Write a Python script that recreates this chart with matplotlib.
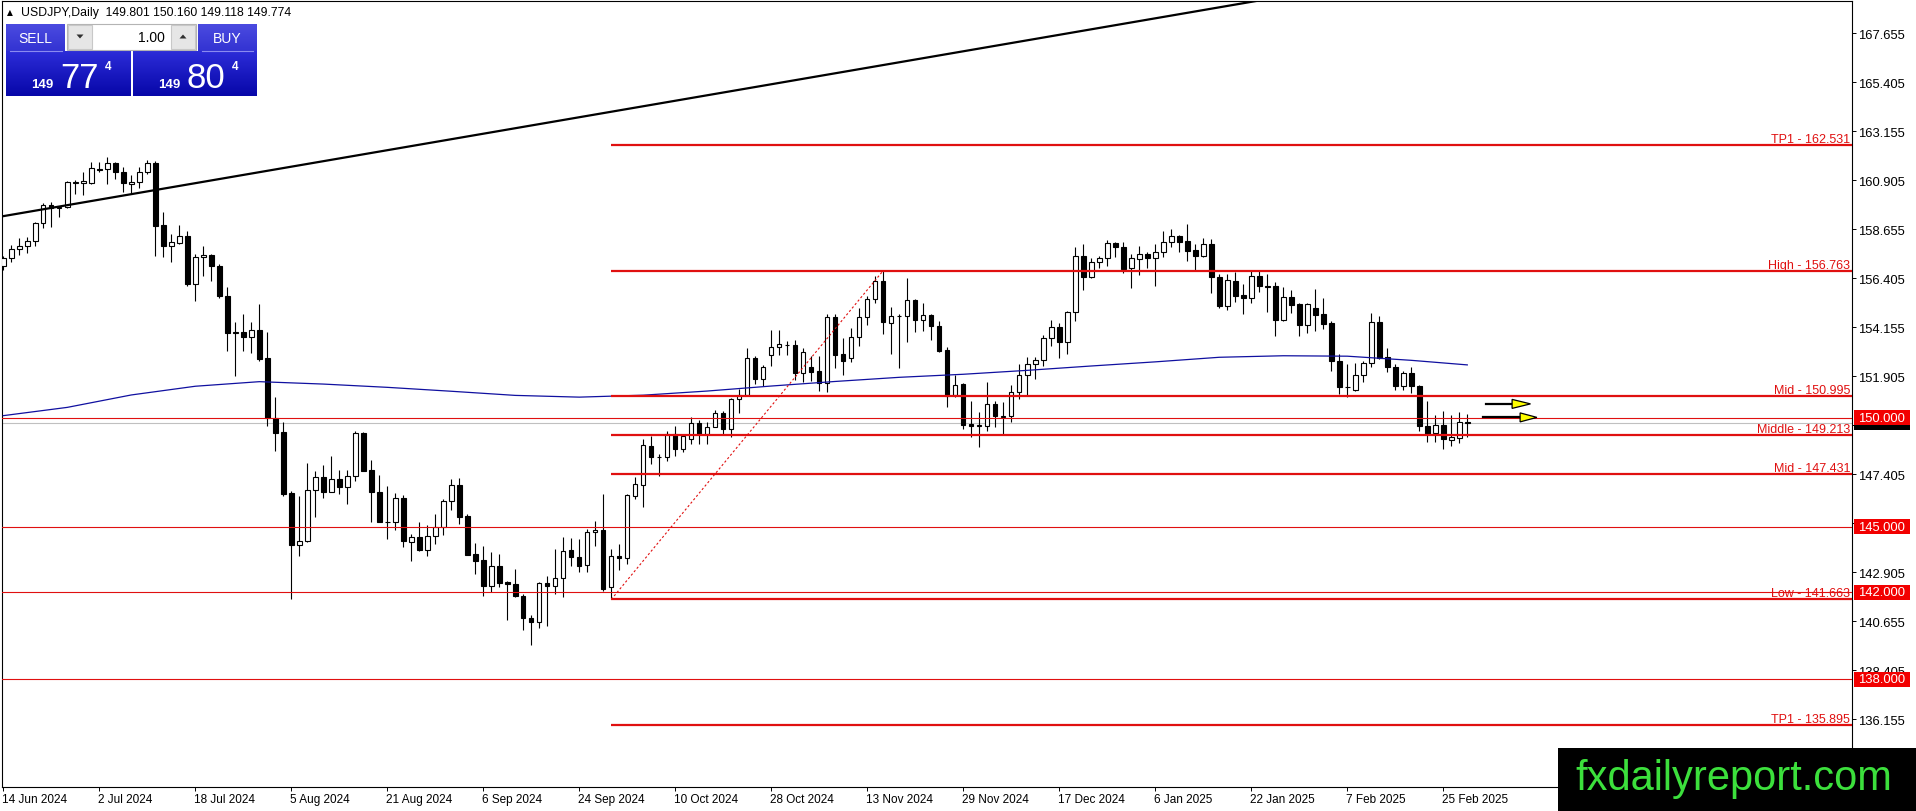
import numpy as np
import matplotlib
matplotlib.use("Agg")
import matplotlib.pyplot as plt
import matplotlib.colors as mcolors
from matplotlib.patches import Rectangle, Polygon

plt.rcParams['font.family'] = ['Liberation Sans', 'DejaVu Sans']

# ---------------- data (daily USDJPY candles, 14 Jun 2024 .. 28 Feb 2025) ----------------
opens = [156.98, 157.32, 157.75, 157.87, 158.10, 158.94, 159.77, 159.65, 159.67, 160.80,
         160.78, 160.77, 161.44, 161.42, 161.69, 161.27, 160.74, 160.81, 161.27, 161.69,
         158.85, 157.90, 158.03, 158.33, 156.14, 157.37, 157.47, 156.98, 155.58, 153.88,
         153.95, 153.70, 154.03, 152.75, 149.98, 149.33, 146.55, 144.17, 144.33, 146.69,
         147.27, 146.61, 147.19, 146.81, 147.31, 149.30, 147.60, 146.58, 145.23, 145.20,
         146.30, 144.29, 144.51, 143.95, 144.56, 145.00, 146.17, 146.92, 145.51, 143.73,
         143.47, 142.29, 143.18, 142.48, 142.37, 141.80, 140.82, 140.61, 142.42, 142.26,
         142.63, 143.93, 143.60, 143.24, 144.74, 144.85, 142.21, 143.67, 143.55, 146.42,
         146.92, 148.72, 148.19, 148.19, 149.26, 148.57, 149.03, 149.75, 149.26, 149.60,
         150.21, 149.49, 150.87, 151.06, 152.73, 151.78, 152.90, 153.24, 153.35, 153.36,
         152.05, 152.35, 152.15, 151.60, 154.64, 152.93, 152.73, 153.70, 154.64, 155.46,
         156.27, 154.34, 154.66, 154.69, 155.43, 154.50, 154.73, 154.20, 153.13, 151.05,
         151.55, 149.72, 149.61, 149.61, 150.64, 150.05, 150.07, 151.19, 151.97, 152.47,
         152.66, 153.65, 154.16, 153.47, 154.84, 157.42, 156.45, 157.14, 157.32, 158.01,
         157.83, 156.86, 157.29, 157.52, 157.32, 157.60, 158.06, 158.33, 158.13, 157.70,
         157.44, 157.98, 156.45, 155.15, 156.30, 155.64, 155.49, 156.50, 156.04, 156.04,
         154.50, 155.53, 155.22, 154.28, 155.03, 154.76, 154.35, 152.59, 151.43, 151.28,
         151.98, 152.50, 154.38, 152.78, 152.32, 151.47, 152.05, 151.44, 149.64, 149.29,
         149.69, 148.99, 149.06, 149.801]
highs = [157.45, 157.93, 158.24, 158.29, 159.00, 159.86, 159.93, 159.74, 160.89, 160.90,
         161.30, 161.73, 161.73, 161.96, 161.73, 161.50, 161.15, 161.50, 161.86, 161.80,
         159.43, 158.44, 158.85, 158.59, 157.50, 157.87, 157.52, 157.05, 155.99, 154.38,
         154.76, 154.38, 155.22, 153.92, 150.94, 149.79, 146.65, 146.40, 147.93, 147.57,
         147.84, 148.26, 147.62, 147.62, 149.41, 149.37, 148.08, 147.37, 146.88, 146.55,
         146.45, 144.66, 145.20, 145.08, 145.58, 146.27, 147.19, 147.22, 145.58, 144.25,
         144.13, 143.83, 143.75, 142.52, 143.04, 141.91, 140.95, 142.48, 142.72, 143.98,
         144.51, 144.47, 144.44, 144.90, 145.28, 146.49, 144.00, 144.20, 146.50, 147.27,
         149.02, 149.18, 148.34, 149.41, 149.64, 149.26, 150.05, 149.90, 149.83, 150.37,
         150.33, 150.90, 151.32, 153.19, 152.85, 152.42, 154.02, 154.02, 153.53, 153.59,
         153.19, 152.85, 152.85, 154.76, 154.76, 153.65, 154.11, 155.02, 155.61, 156.53,
         156.76, 155.08, 154.76, 156.40, 155.46, 155.27, 154.76, 154.46, 153.24, 151.97,
         151.60, 150.79, 150.25, 151.63, 150.79, 150.71, 151.52, 152.49, 152.81, 152.78,
         153.80, 154.50, 154.35, 154.89, 157.83, 157.97, 157.33, 157.42, 158.17, 158.06,
         158.09, 157.52, 157.88, 157.60, 157.98, 158.59, 158.66, 158.40, 158.90, 157.98,
         158.25, 158.21, 156.61, 156.61, 156.68, 156.15, 156.76, 156.76, 156.60, 156.25,
         156.02, 155.88, 155.27, 155.25, 155.92, 155.49, 154.46, 152.94, 152.47, 152.53,
         152.63, 154.81, 154.66, 153.20, 152.47, 152.17, 152.33, 151.49, 150.79, 150.15,
         150.33, 150.15, 150.29, 150.160]
lows = [156.80, 157.17, 157.47, 157.57, 157.90, 158.70, 158.77, 159.21, 159.62, 160.28,
        160.23, 160.74, 161.27, 160.74, 160.96, 160.35, 160.28, 160.54, 161.18, 157.45,
        157.37, 157.17, 157.98, 156.07, 155.38, 156.52, 156.30, 155.50, 153.08, 151.93,
        153.08, 152.98, 152.62, 149.64, 148.49, 146.42, 141.68, 143.64, 144.31, 145.43,
        146.30, 146.58, 146.50, 146.04, 147.08, 147.55, 145.24, 145.20, 144.43, 144.86,
        144.06, 143.44, 143.90, 143.67, 144.22, 144.62, 145.77, 145.12, 143.70, 142.83,
        141.80, 142.02, 142.22, 140.73, 141.76, 140.27, 139.58, 140.34, 140.45, 141.91,
        141.76, 143.18, 142.94, 142.91, 144.13, 142.06, 141.66, 143.00, 143.30, 146.27,
        145.89, 147.88, 147.34, 148.03, 148.26, 148.43, 148.80, 148.80, 148.80, 149.57,
        149.20, 149.10, 150.22, 150.99, 151.55, 151.47, 152.39, 152.90, 152.90, 151.73,
        151.63, 151.69, 151.24, 151.17, 152.30, 151.95, 152.58, 153.28, 154.28, 155.27,
        153.85, 152.93, 152.29, 153.47, 153.92, 153.97, 153.59, 153.00, 150.48, 150.94,
        149.49, 149.10, 148.64, 149.40, 149.56, 149.26, 149.79, 150.87, 151.00, 151.78,
        152.39, 153.31, 152.76, 152.92, 154.46, 155.88, 156.40, 156.90, 156.98, 157.37,
        156.63, 155.98, 156.56, 156.89, 156.06, 157.37, 157.83, 157.60, 157.22, 156.77,
        157.40, 155.75, 155.05, 154.96, 155.31, 154.77, 155.28, 155.76, 154.85, 153.74,
        154.43, 154.80, 153.77, 153.89, 154.00, 154.07, 152.13, 151.08, 150.94, 151.22,
        151.66, 152.32, 152.70, 152.09, 151.27, 151.27, 151.14, 149.41, 148.90, 148.88,
        148.57, 148.72, 148.86, 149.118]
closes = [157.32, 157.74, 157.87, 158.10, 158.94, 159.78, 159.65, 159.68, 160.81, 160.83,
          160.89, 161.46, 161.40, 161.70, 161.27, 160.77, 160.84, 161.27, 161.69, 158.82,
          157.90, 158.06, 158.33, 156.14, 157.40, 157.47, 156.98, 155.58, 153.88, 153.92,
          153.72, 154.03, 152.70, 149.98, 149.30, 146.49, 144.17, 144.33, 146.69, 147.27,
          146.61, 147.19, 146.81, 147.31, 149.30, 147.57, 146.58, 145.23, 145.20, 146.30,
          144.36, 144.51, 143.93, 144.56, 145.00, 146.17, 146.93, 145.46, 143.72, 143.44,
          142.29, 143.18, 142.42, 142.37, 141.80, 140.82, 140.61, 142.42, 142.26, 142.63,
          143.90, 143.60, 143.21, 144.74, 144.85, 142.14, 143.64, 143.55, 146.46, 146.96,
          148.75, 148.19, 148.20, 149.26, 148.57, 149.15, 149.75, 149.26, 149.60, 150.21,
          149.49, 150.87, 151.06, 152.73, 151.78, 152.32, 153.24, 153.39, 153.33, 152.05,
          153.01, 152.12, 151.60, 154.64, 152.90, 152.62, 153.70, 154.64, 155.46, 156.27,
          154.38, 154.66, 154.69, 155.43, 154.50, 154.73, 154.20, 153.08, 151.02, 151.52,
          149.67, 149.61, 149.65, 150.64, 150.07, 150.10, 151.19, 151.97, 152.47, 152.66,
          153.65, 154.16, 153.47, 154.84, 157.42, 156.45, 157.14, 157.32, 158.01, 157.83,
          156.83, 157.32, 157.52, 157.32, 157.60, 158.06, 158.33, 158.09, 157.67, 157.44,
          157.98, 156.45, 155.15, 156.33, 155.61, 155.49, 156.50, 156.04, 156.00, 154.50,
          155.53, 155.18, 154.26, 155.21, 154.72, 154.30, 152.59, 151.43, 151.40, 151.98,
          152.52, 154.38, 152.75, 152.32, 151.47, 152.05, 151.45, 149.64, 149.26, 149.69,
          149.03, 149.10, 149.80, 149.774]

date_labels = ["14 Jun 2024", "2 Jul 2024", "18 Jul 2024", "5 Aug 2024", "21 Aug 2024",
               "6 Sep 2024", "24 Sep 2024", "10 Oct 2024", "28 Oct 2024", "13 Nov 2024",
               "29 Nov 2024", "17 Dec 2024", "6 Jan 2025", "22 Jan 2025", "7 Feb 2025",
               "25 Feb 2025"]
date_label_bars = [0, 12, 24, 36, 48, 60, 72, 84, 96, 108, 120, 132, 144, 156, 168, 180]

price_ticks = [136.155, 138.405, 140.655, 142.905, 145.155, 147.405, 149.655, 151.905,
               154.155, 156.405, 158.655, 160.905, 163.155, 165.405, 167.655]
hidden_tick_labels = [149.655]   # fully covered by the price boxes in the terminal

ma_bars = [0, 8, 16, 24, 32, 40, 48, 56, 64, 72, 80, 88, 96, 104, 112, 120, 128, 136,
           144, 152, 160, 168, 176, 183]
ma_values = [150.10, 150.48, 151.05, 151.45, 151.66, 151.55, 151.40, 151.22, 151.03,
             150.95, 151.04, 151.23, 151.46, 151.67, 151.86, 152.00, 152.18, 152.38,
             152.57, 152.78, 152.85, 152.83, 152.64, 152.43]

trend_bars = [0, 156]
trend_prices = [159.26, 169.10]

fib_names = ["TP1", "High", "Mid", "Middle", "Mid", "Low", "TP1"]
fib_levels = [162.531, 156.763, 150.995, 149.213, 147.431, 141.663, 135.895]
fib_start_bar = 76

swing_bars = [76, 110]
swing_prices = [141.663, 156.763]

round_levels = [150.000, 145.000, 142.000, 138.000]
bid_price = 149.774
ask_price = 149.804
lot_size = "1.00"

arrow_prices = [150.64, 150.02]
arrow_tail_bars = [185.3, 184.96]
arrow_head_bars = [188.6, 189.6]
arrow_tip_bars = [190.9, 191.7]

# ---------------- figure / layout ----------------
W, H = 1916, 812
fig = plt.figure(figsize=(W / 100, H / 100), dpi=100)
fig.patch.set_facecolor('white')
L, R, T, B = 2, 1852, 2, 788
ax = fig.add_axes([L / W, 1 - B / H, (R - L) / W, (B - T) / H])
bar_x0, bar_step = 3.3, 8.0
xlim = ((L - bar_x0) / bar_step, (R - bar_x0) / bar_step)
ax.set_xlim(*xlim)
ax.set_ylim(133.05, 169.138)
ax.set_facecolor('white')
for s in ax.spines.values():
    s.set_color('black')
    s.set_linewidth(0.8)

O = np.array(opens); Hh = np.array(highs); Lo = np.array(lows); C = np.array(closes)
xs = np.arange(len(O))

# candles
ax.vlines(xs, Lo, Hh, colors='black', linewidth=0.8, zorder=3)
bottoms = np.minimum(O, C)
heights = np.maximum(np.abs(C - O), 0.004)
cols = ['white' if c >= o else 'black' for o, c in zip(O, C)]
ax.bar(xs, heights, bottom=bottoms, width=0.55, color=cols, edgecolor='black',
       linewidth=0.8, zorder=4)

# moving average
ax.plot(ma_bars, ma_values, color='#1010a0', linewidth=0.9, zorder=5)

# trend line (ray)
slope = (trend_prices[1] - trend_prices[0]) / (trend_bars[1] - trend_bars[0])
tx = np.array([xlim[0] - 1, trend_bars[1] + 10])
ax.plot(tx, trend_prices[0] + slope * (tx - trend_bars[0]), color='black',
        linewidth=1.6, zorder=5)

# thin round-number lines and bid line
ax.axhline(bid_price, color='#c0c0c0', linewidth=0.8, zorder=2)
for lv in round_levels:
    ax.axhline(lv, color='#e01010', linewidth=0.8, zorder=5)

# fib levels
ax.hlines(fib_levels, fib_start_bar, xlim[1], colors='#e01010', linewidth=1.6, zorder=5)
for nm, lv in zip(fib_names, fib_levels):
    ax.annotate(f"{nm} - {lv:.3f}", xy=(1, lv), xycoords=('axes fraction', 'data'),
                xytext=(-2, 0), textcoords='offset pixels', ha='right', va='bottom',
                fontsize=9, color='#e01010', zorder=6)

# swing dotted line
ax.plot(swing_bars, swing_prices, color='#e01010', linewidth=0.8,
        linestyle=(0, (2, 2)), zorder=5)

# axes ticks
ax.yaxis.tick_right()
ax.set_yticks(price_ticks)
ax.set_yticklabels(["" if p in hidden_tick_labels else f"{p:.3f}" for p in price_ticks])
ax.tick_params(axis='y', direction='out', length=2.9, width=0.7, pad=1.6,
               labelsize=9.4, colors='black')
ax.set_xticks(date_label_bars)
ax.set_xticklabels([])
ax.tick_params(axis='x', direction='out', length=3, width=0.7)
for b, lbl in zip(date_label_bars, date_labels):
    ax.annotate(lbl, xy=(b, 0), xycoords=('data', 'axes fraction'), xytext=(-1, -12),
                textcoords='offset pixels', ha='left', va='center', fontsize=8.5,
                annotation_clip=False)

# ---------------- overlay in pixel coordinates ----------------
ov = fig.add_axes([0, 0, 1, 1], zorder=10)
ov.patch.set_alpha(0)
ov.axis('off')


def py(price):
    return H - ax.transData.transform((0, price))[1]


def pxb(bar):
    return ax.transData.transform((bar, 150))[0]


def grad(x0, y0, x1, y1, ctop, cbot):
    t = np.linspace(0, 1, 64)[:, None]
    a = np.array(mcolors.to_rgb(ctop)); b = np.array(mcolors.to_rgb(cbot))
    img = (a * (1 - t) + b * t)[:, None, :]
    ov.imshow(img, extent=(x0, x1, y1, y0), origin='upper', aspect='auto',
              interpolation='bilinear', zorder=11)


# price boxes (bid box mostly hidden under the 150.000 box, as in the terminal)
yb = py(bid_price)
ov.add_patch(Rectangle((1854, yb - 7.5), 56, 15, facecolor='black', edgecolor='none', zorder=12))
for lv in round_levels:
    y = py(lv)
    ov.add_patch(Rectangle((1854, y - 7.5), 56, 15, facecolor='#f20000', edgecolor='none', zorder=14))
    ov.text(1858, y, f"{lv:.3f}", color='white', fontsize=9.4, va='center', ha='left', zorder=15)

# arrows
for p, t0, h0, tip in zip(arrow_prices, arrow_tail_bars, arrow_head_bars, arrow_tip_bars):
    y = py(p)
    x0, xh, xt = pxb(t0), pxb(h0), pxb(tip)
    ov.plot([x0, xh], [y, y], color='black', linewidth=1.6, zorder=12)
    ov.add_patch(Polygon([(xh, y - 4.5), (xh, y + 4.5), (xt, y)], closed=True,
                         facecolor='#ffff00', edgecolor='black', linewidth=0.9, zorder=13))

# title
last = len(O) - 1
ov.text(10, 13, "▲", fontsize=5.5, va='center', ha='center', family=['DejaVu Sans'], zorder=12)
ov.text(21.5, 13, f"USDJPY,Daily  {O[last]:.3f} {Hh[last]:.3f} {Lo[last]:.3f} {C[last]:.3f}",
        fontsize=8.8, va='center', ha='left', zorder=12)

# one-click trading panel
grad(6, 25, 65, 52, '#4b4be0', '#3333d2')
grad(6, 52, 131, 97, '#2c2cd8', '#0707a8')
grad(198, 25, 257, 52, '#4b4be0', '#3333d2')
grad(133, 52, 257, 97, '#2c2cd8', '#0707a8')
ov.plot([10, 62], [52, 52], color='#8a8af0', linewidth=0.8, zorder=12)
ov.plot([202, 253], [52, 52], color='#8a8af0', linewidth=0.8, zorder=12)
ov.add_patch(Rectangle((67, 25), 129, 26, facecolor='white', edgecolor='#b4b4b4', linewidth=0.8, zorder=12))
ov.add_patch(Rectangle((68, 26), 24, 24, facecolor='#e6e6e6', edgecolor='#c8c8c8', linewidth=0.8, zorder=13))
ov.add_patch(Rectangle((171, 26), 24, 24, facecolor='#e6e6e6', edgecolor='#c8c8c8', linewidth=0.8, zorder=13))
ov.add_patch(Polygon([(76.5, 35.5), (83.5, 35.5), (80, 39.5)], closed=True, facecolor='#303030', edgecolor='none', zorder=14))
ov.add_patch(Polygon([(179.5, 39.5), (186.5, 39.5), (183, 35.5)], closed=True, facecolor='#303030', edgecolor='none', zorder=14))
ov.text(165, 38, lot_size, fontsize=10, ha='right', va='center', color='black', zorder=14)
ov.text(35.5, 39, "SELL", fontsize=10, ha='center', va='center', color='white', zorder=14)
ov.text(227, 39, "BUY", fontsize=10, ha='center', va='center', color='white', zorder=14)

bid_s = f"{bid_price:.3f}"
ask_s = f"{ask_price:.3f}"
for big_x, small_x, sup_x, s in [(80, 42.5, 108, bid_s), (205.5, 169.5, 235.5, ask_s)]:
    ov.text(small_x, 87.5, s[:3], fontsize=9.5, fontweight='bold', ha='center', va='baseline', color='white', zorder=14)
    ov.text(big_x, 88.5, s[4:6], fontsize=25, ha='center', va='baseline', color='white', zorder=14)
    ov.text(sup_x, 70, s[6], fontsize=8.5, fontweight='bold', ha='center', va='baseline', color='white', zorder=14)

# watermark
ov.add_patch(Rectangle((1558, 749), 358, 63, facecolor='black', edgecolor='none', zorder=20))
ov.text(1575, 790, "fxdailyreport.com", fontsize=30, color='#3ce03c', ha='left', va='baseline', zorder=21)

ov.set_xlim(0, W)
ov.set_ylim(H, 0)

fig.savefig("out.png", dpi=100, facecolor='white')
